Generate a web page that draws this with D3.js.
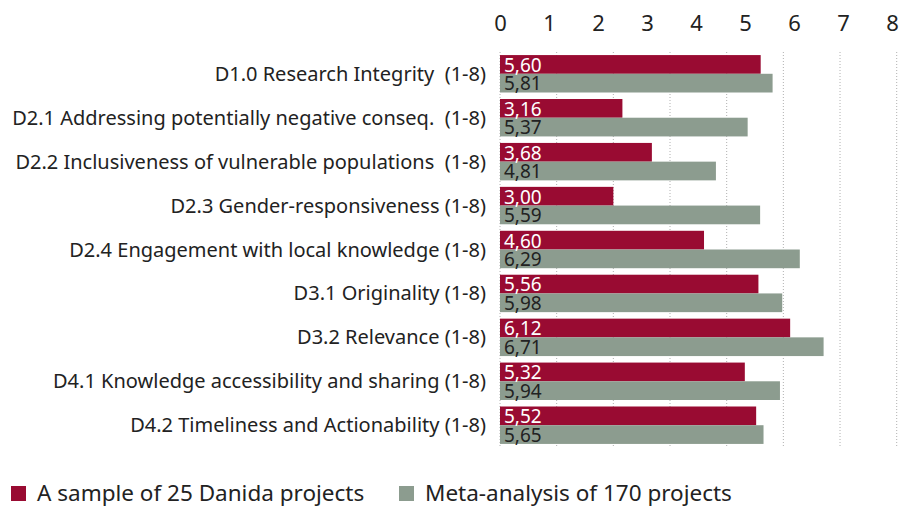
<!DOCTYPE html>
<html>
<head>
<meta charset="utf-8">
<script src="https://cdn.jsdelivr.net/npm/d3@7"></script>
<style>
  body { margin: 0; background: #fff; }
  text { font-family: "Noto Sans", "Open Sans", sans-serif; white-space: pre; }
</style>
</head>
<body>
<div id="chart"></div>
<script>
// データ
const categories = [
  "D1.0 Research Integrity  (1-8)",
  "D2.1 Addressing potentially negative conseq.  (1-8)",
  "D2.2 Inclusiveness of vulnerable populations  (1-8)",
  "D2.3 Gender-responsiveness (1-8)",
  "D2.4 Engagement with local knowledge (1-8)",
  "D3.1 Originality (1-8)",
  "D3.2 Relevance (1-8)",
  "D4.1 Knowledge accessibility and sharing (1-8)",
  "D4.2 Timeliness and Actionability (1-8)"
];
const seriesNames = ["A sample of 25 Danida projects", "Meta-analysis of 170 projects"];
const danida = [5.60, 3.16, 3.68, 3.00, 4.60, 5.56, 6.12, 5.32, 5.52];
const meta = [5.81, 5.37, 4.81, 5.59, 6.29, 5.98, 6.71, 5.94, 5.65];
const gridValues = [1, 2, 3, 4, 5, 6, 7, 8];
const tickLabels = [0, 1, 2, 3, 4, 5, 6, 7, 8];

const width = 899, height = 506;
const colors = ["#990b32", "#8c9c8f"];
const textColors = ["#ffffff", "#222222"];

const svg = d3.select("#chart").append("svg")
  .attr("width", width)
  .attr("height", height);

const data = categories.map((c, i) => ({ cat: c, values: [danida[i], meta[i]] }));

// スケール
const x = d3.scaleLinear().domain([1, 8]).range([500, 896.7]);
// 目盛ラベル（元のグラフでは棒と別の間隔で並んでいる）
const xLabel = d3.scaleLinear().domain([0, 8]).range([500, 892]);
const y = d3.scaleBand().domain(categories).range([52, 447]).paddingInner(0.148).paddingOuter(0.07);
const ySub = d3.scaleBand().domain([0, 1]).range([0, y.bandwidth()]);

// グリッド線
svg.append("g")
  .selectAll("line")
  .data(gridValues)
  .join("line")
  .attr("x1", d => x(d)).attr("x2", d => x(d))
  .attr("y1", 52).attr("y2", 447)
  .attr("stroke", "#b0b0b0")
  .attr("stroke-width", 1)
  .attr("stroke-dasharray", "1,2");

// 上の目盛ラベル
const topAxis = d3.axisTop(xLabel).tickValues(tickLabels).tickSize(0).tickPadding(0).tickFormat(d3.format("d"));
svg.append("g")
  .attr("transform", "translate(0,31)")
  .call(topAxis)
  .call(g => g.select(".domain").remove())
  .call(g => g.selectAll("text")
    .attr("font-family", "'Noto Sans', sans-serif")
    .attr("font-size", 22)
    .attr("fill", "#222")
    .attr("dy", 0));

// 縦軸ラベル
svg.append("g")
  .selectAll("text")
  .data(categories)
  .join("text")
  .attr("x", 486)
  .attr("y", d => y(d) + y.bandwidth() / 2)
  .attr("dy", "0.35em")
  .attr("text-anchor", "end")
  .attr("font-size", 20)
  .attr("fill", "#222")
  .text(d => d);

// 棒
const groups = svg.append("g")
  .selectAll("g")
  .data(data)
  .join("g")
  .attr("transform", d => `translate(0,${y(d.cat)})`);

groups.selectAll("rect")
  .data(d => d.values)
  .join("rect")
  .attr("x", x(1))
  .attr("y", (d, i) => ySub(i))
  .attr("width", d => x(d) - x(1))
  .attr("height", ySub.bandwidth())
  .attr("fill", (d, i) => colors[i]);

groups.selectAll("text")
  .data(d => d.values)
  .join("text")
  .attr("x", x(1) + 4)
  .attr("y", (d, i) => ySub(i) + ySub.bandwidth() - 2)
  .attr("font-size", 19)
  .attr("fill", (d, i) => textColors[i])
  .text(d => d.toFixed(2).replace(".", ","));

// 凡例
const legendX = [11, 399];
const legend = svg.append("g")
  .selectAll("g")
  .data(seriesNames)
  .join("g")
  .attr("transform", (d, i) => `translate(${legendX[i]},486)`);

legend.append("rect")
  .attr("width", 15)
  .attr("height", 15)
  .attr("fill", (d, i) => colors[i]);

legend.append("text")
  .attr("x", 26)
  .attr("y", 7.5)
  .attr("dy", "0.35em")
  .attr("font-size", 22.5)
  .attr("fill", "#222")
  .text(d => d);
</script>
</body>
</html>
